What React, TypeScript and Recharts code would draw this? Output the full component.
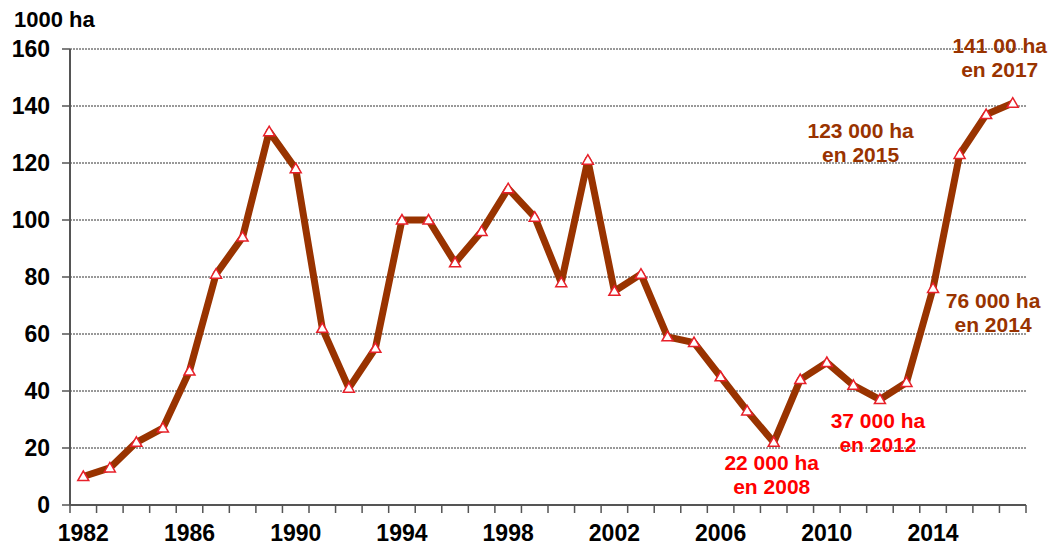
import React from 'react';
import { LineChart, Line, XAxis, YAxis, CartesianGrid, ReferenceDot } from 'recharts';

const years = [
  1982, 1983, 1984, 1985, 1986, 1987, 1988, 1989, 1990, 1991, 1992, 1993,
  1994, 1995, 1996, 1997, 1998, 1999, 2000, 2001, 2002, 2003, 2004, 2005,
  2006, 2007, 2008, 2009, 2010, 2011, 2012, 2013, 2014, 2015, 2016, 2017,
];

// Surface (1000 ha)
const areaValues = [
  10, 13, 22, 27, 47, 81, 94, 131, 118, 62, 41, 55,
  100, 100, 85, 96, 111, 101, 78, 121, 75, 81, 59, 57,
  45, 33, 22, 44, 50, 42, 37, 43, 76, 123, 137, 141,
];

const yTicks = [0, 20, 40, 60, 80, 100, 120, 140, 160];
const xLabelYears = [1982, 1986, 1990, 1994, 1998, 2002, 2006, 2010, 2014];

const annotations = [
  { year: 2008, lines: ['22 000 ha', 'en 2008'], tone: 'red' },
  { year: 2012, lines: ['37 000 ha', 'en 2012'], tone: 'red' },
  { year: 2014, lines: ['76 000 ha', 'en 2014'], tone: 'brown' },
  { year: 2015, lines: ['123 000 ha', 'en 2015'], tone: 'brown' },
  { year: 2017, lines: ['141 00 ha', 'en 2017'], tone: 'brown' },
];

// layout (pixel offsets of annotation text from its data point)
const annotationOffsets: Record<number, { dx: number; dy: number }> = {
  2008: { dx: -2, dy: 28 },
  2012: { dx: -2, dy: 28 },
  2014: { dx: 60, dy: 20 },
  2015: { dx: -99, dy: -16 },
  2017: { dx: -13, dy: -50 },
};

const toneColors: Record<string, string> = { red: '#ff0000', brown: '#993300' };

const data = years.map((year, i) => ({ year, value: areaValues[i] }));
const boundaryTicks = years.map((y) => y - 0.5).concat([years[years.length - 1] + 0.5]);
const xTicks = [...boundaryTicks, ...xLabelYears].sort((a, b) => a - b);

const FONT = '"Liberation Sans", Arial, Helvetica, sans-serif';

const TriangleDot = (props: any) => {
  const { cx, cy } = props;
  if (cx == null || cy == null) return null;
  const d = `M${cx},${cy - 5.5} L${cx + 5.5},${cy + 4} L${cx - 5.5},${cy + 4} Z`;
  return <path d={d} fill="#ffffff" stroke="#e8202a" strokeWidth={1.5} strokeLinejoin="miter" />;
};

const XTick = (props: any) => {
  const { x, y, payload } = props;
  const v = payload.value as number;
  if (v % 1 !== 0) {
    return <line x1={x} x2={x} y1={y - 20} y2={y - 12} stroke="#555" strokeWidth={1.5} />;
  }
  return (
    <text x={x} y={y} dy="0.71em" textAnchor="middle" fontFamily={FONT} fontWeight="bold" fontSize={23} fill="#000">
      {v}
    </text>
  );
};

const AnnLabel = (props: any) => {
  const { viewBox, lines, color, dx, dy } = props;
  if (!viewBox) return null;
  const cx = viewBox.x + (viewBox.width || 0) / 2 + dx;
  const cy = viewBox.y + (viewBox.height || 0) / 2 + dy;
  return (
    <text x={cx} y={cy} textAnchor="middle" fontFamily={FONT} fontWeight="bold" fontSize={21} fill={color}>
      <tspan x={cx} dy={0}>{lines[0]}</tspan>
      <tspan x={cx} dy={24}>{lines[1]}</tspan>
    </text>
  );
};

export default function App() {
  return (
    <div style={{ position: 'absolute', left: 0, top: 0, width: 1050, height: 549, background: '#fff' }}>
      <div
        style={{
          position: 'absolute',
          left: 14,
          top: 9,
          fontFamily: FONT,
          fontWeight: 'bold',
          fontSize: 22,
          lineHeight: '22px',
          color: '#000',
        }}
      >
        1000 ha
      </div>
      <LineChart width={1050} height={549} data={data} margin={{ top: 49, right: 24, bottom: 0, left: 0 }}>
        {annotations.map((a) => (
          <ReferenceDot
            key={a.year}
            x={a.year}
            y={areaValues[years.indexOf(a.year)]}
            r={1}
            fill="none"
            stroke="none"
            ifOverflow="visible"
            label={
              <AnnLabel
                lines={a.lines}
                color={toneColors[a.tone]}
                dx={annotationOffsets[a.year].dx}
                dy={annotationOffsets[a.year].dy}
              />
            }
          />
        ))}
        <CartesianGrid vertical={false} stroke="#333" strokeDasharray="2 1" strokeWidth={1} />
        <XAxis
          dataKey="year"
          type="number"
          domain={[1981.5, 2017.5]}
          ticks={xTicks}
          interval={0}
          tick={<XTick />}
          tickLine={false}
          tickSize={0}
          tickMargin={20}
          height={44}
          axisLine={{ stroke: '#555', strokeWidth: 2 }}
          allowDataOverflow
        />
        <YAxis
          type="number"
          domain={[0, 160]}
          ticks={yTicks}
          interval={0}
          width={70}
          tickSize={8}
          tickMargin={12}
          axisLine={{ stroke: '#555', strokeWidth: 2 }}
          tickLine={{ stroke: '#555', strokeWidth: 1.5 }}
          tick={{ fontFamily: FONT, fontWeight: 'bold', fontSize: 23, fill: '#000' }}
        />
        <Line
          type="linear"
          dataKey="value"
          stroke="#993300"
          strokeWidth={7}
          strokeLinejoin="round"
          dot={<TriangleDot />}
          activeDot={false}
          isAnimationActive={false}
        />
      </LineChart>
    </div>
  );
}
